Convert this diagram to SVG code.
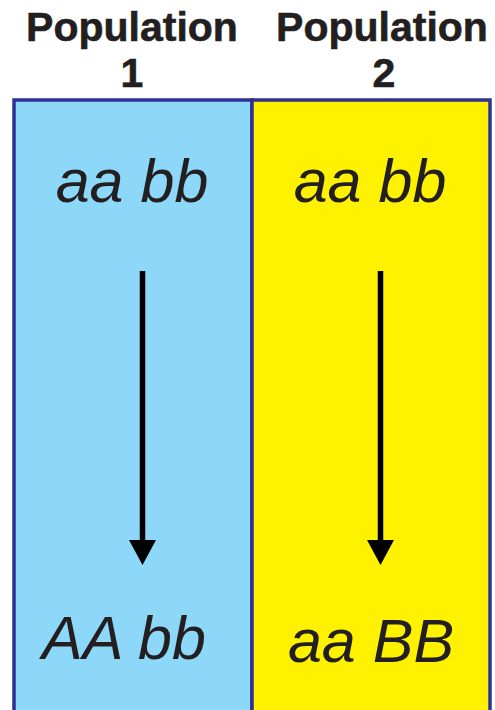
<svg xmlns="http://www.w3.org/2000/svg" width="495" height="710" viewBox="0 0 495 710">
<style>
.head{font-family:"Liberation Sans",Arial,sans-serif;font-weight:bold;font-size:41px;fill:#231F20;stroke:#231F20;stroke-width:0.6;text-anchor:middle}
.geno{font-family:"Liberation Sans",Arial,sans-serif;font-style:italic;font-size:61px;fill:#231F20;text-anchor:middle}
.shaft{stroke:#000;stroke-width:5.5}
</style>
<g id="header1"><text class="head" x="132" y="41">Population</text><text class="head" x="132" y="87">1</text></g>
<g id="header2"><text class="head" x="382" y="41">Population</text><text class="head" x="384" y="87">2</text></g>
<g id="population1">
<rect x="14" y="100" width="238" height="620" fill="#8DD8F8" stroke="#2E3192" stroke-width="3.5"/>
<text class="geno" x="132" y="202">aa bb</text>
<text class="geno" x="124" y="659">AA bb</text>
</g>
<g id="population2">
<rect x="252" y="100" width="238" height="620" fill="#FFF200" stroke="#2E3192" stroke-width="3.5"/>
<text class="geno" x="370" y="202">aa bb</text>
<text class="geno" x="371" y="662">aa BB</text>
</g>
<g id="connectors">
<line class="shaft" x1="142.5" y1="271" x2="142.5" y2="545"/>
<polygon points="129,540 156,540 142.5,565" fill="#000"/>
<line class="shaft" x1="380.5" y1="271" x2="380.5" y2="545"/>
<polygon points="367,540 394,540 380.5,565" fill="#000"/>
</g>
</svg>
